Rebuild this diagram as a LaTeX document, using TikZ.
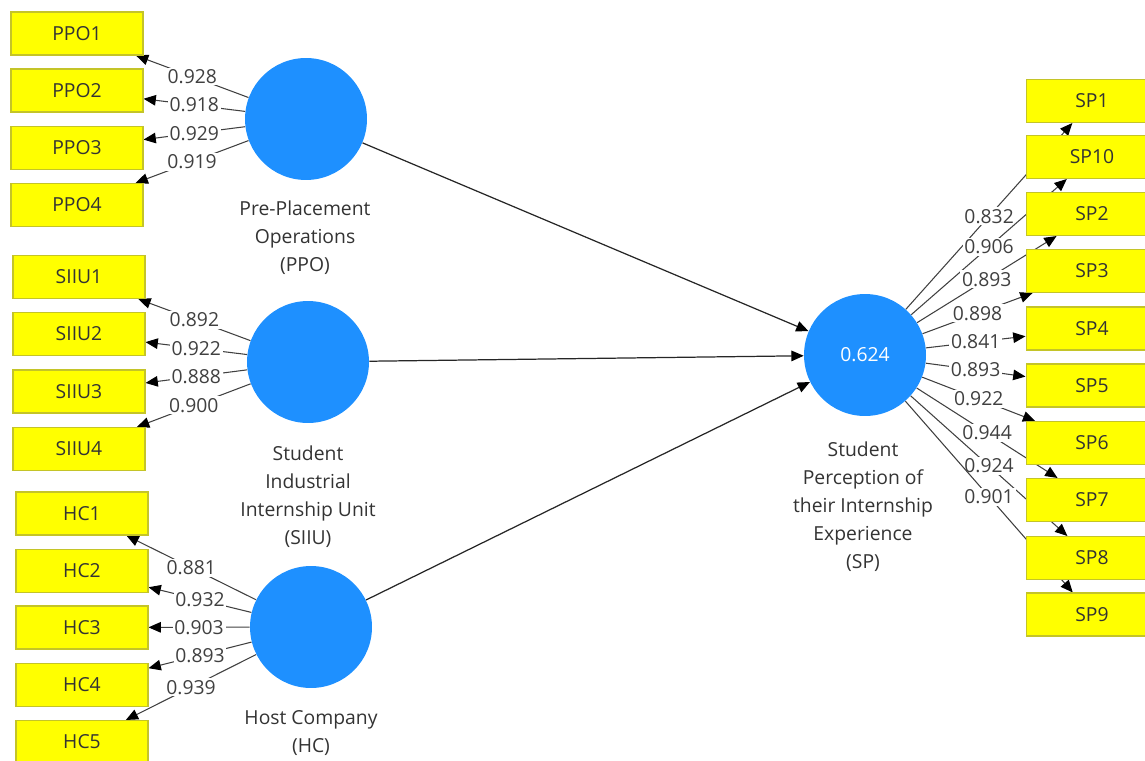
\documentclass[tikz,border=0pt]{standalone}
\usepackage{fontspec}
\setmainfont{Open Sans}
\usetikzlibrary{arrows.meta}

\pgfdeclarelayer{back}
\pgfsetlayers{back,main}

\definecolor{latentblue}{RGB}{30,144,255}
\definecolor{itemyellow}{RGB}{255,255,0}
\definecolor{itemedge}{RGB}{196,196,40}
\definecolor{loadgray}{RGB}{64,64,64}

\begin{document}
\begin{tikzpicture}[x=0.02cm,y=-0.02cm,
  font=\fontsize{11}{16}\selectfont,
  item/.style={rectangle,draw=itemedge,line width=0.6pt,fill=itemyellow,
    minimum width=2.64cm,minimum height=0.86cm,inner sep=0pt,text=black!80},
  latent/.style={circle,fill=latentblue,minimum size=2.44cm,inner sep=0pt,text=white},
  caption/.style={align=center,inner sep=0pt,text=black!80,anchor=north},
  load/.style={draw=loadgray,line width=0.6pt,-{Triangle[length=7pt,width=6pt,black]}},
  coef/.style={fill=white,inner sep=1pt,text=loadgray},
  inner/.style={draw=black!85,line width=0.7pt,-{Triangle[length=7pt,width=6pt,black]}}]

\clip (0,0) rectangle (1145,760);

% Latent variables
\node[latent] (ppo) at (306,119) {};
\node[latent] (siiu) at (308,362) {};
\node[latent] (hc) at (311,627) {};
\node[latent] (sp) at (865,355) {0.624};

% Captions
\node[caption] (ppotxt) at (305,200) {Pre-Placement\\Operations\\(PPO)};
\node[caption] (siiutxt) at (308,445) {Student\\Industrial\\Internship Unit\\(SIIU)};
\node[caption] (hctxt) at (311,710) {Host Company\\(HC)};
\node[caption] (sptxt) at (863,441) {Student\\Perception of\\their Internship\\Experience\\(SP)};

% ---- Pre-Placement Operations ----
\foreach \n/\y/\v in {PPO1/33.5/0.928,PPO2/90.5/0.918,PPO3/148/0.929,PPO4/205/0.919}{
  \node[item] (\n) at (77,\y) {\n};
  \begin{pgfonlayer}{back}
    \draw[load] (ppo) -- node[coef]{\v} (\n);
  \end{pgfonlayer}
}

% ---- Student Industrial Internship Unit ----
\foreach \n/\y/\v in {SIIU1/277/0.892,SIIU2/334/0.922,SIIU3/391.5/0.888,SIIU4/449/0.900}{
  \node[item] (\n) at (79,\y) {\n};
  \begin{pgfonlayer}{back}
    \draw[load] (siiu) -- node[coef]{\v} (\n);
  \end{pgfonlayer}
}

% ---- Host Company ----
\foreach \n/\y/\v in {HC1/513.5/0.881,HC2/571/0.932,HC3/627.5/0.903,HC4/685/0.893,HC5/742/0.939}{
  \node[item] (\n) at (82,\y) {\n};
  \begin{pgfonlayer}{back}
    \draw[load] (hc) -- node[coef]{\v} (\n);
  \end{pgfonlayer}
}

% ---- Student Perception ----
\foreach \n/\y/\v in {SP1/101/0.832,SP10/157/0.906,SP2/214/0.893,SP3/271/0.898,
    SP4/328.5/0.841,SP5/385.5/0.893,SP6/443/0.922,SP7/500/0.944,SP8/558/0.924,SP9/614.5/0.901}{
  \node[item] (\n) at (1092,\y) {\n};
  \begin{pgfonlayer}{back}
    \draw[load] (sp) -- node[coef]{\v} (\n);
  \end{pgfonlayer}
}

% Structural paths
\draw[inner] (ppo) -- (sp);
\draw[inner] (siiu) -- (sp);
\draw[inner] (hc) -- (sp);

\end{tikzpicture}
\end{document}
